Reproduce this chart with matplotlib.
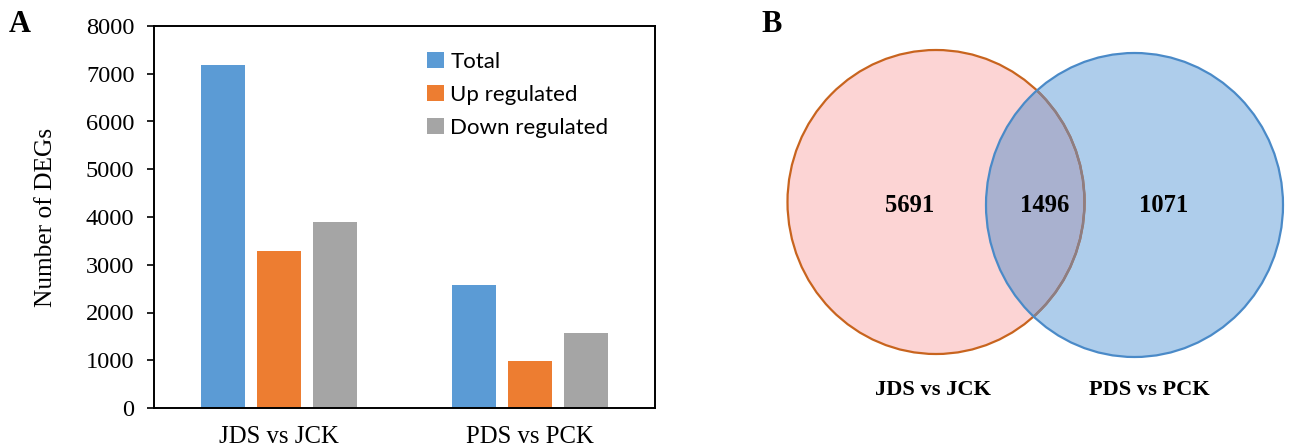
import matplotlib
matplotlib.use("Agg")
import matplotlib.pyplot as plt
from matplotlib.patches import Ellipse
import numpy as np

# DEG counts per comparison
comparisons = ["JDS vs JCK", "PDS vs PCK"]
series_names = ["Total", "Up regulated", "Down regulated"]
total = [7187, 2567]
up_regulated = [3280, 980]
down_regulated = [3900, 1580]
bar_colors = ["#5B9BD5", "#ED7D31", "#A5A5A5"]

# Venn counts: only JDS, shared, only PDS
venn_counts = [5691, 1496, 1071]
venn_labels = ["JDS vs JCK", "PDS vs PCK"]

serif = "Liberation Serif"

fig = plt.figure(figsize=(12.93, 4.48), dpi=100)

# ---- panel A: grouped bars ----
ax = fig.add_axes([154 / 1293, 1 - 408 / 448, 501 / 1293, 382 / 448])
x = np.arange(len(comparisons))
offset = 0.2236
width = 0.176
for i, (vals, name) in enumerate(zip([total, up_regulated, down_regulated], series_names)):
    ax.bar(x + (i - 1) * offset, vals, width, color=bar_colors[i], label=name, zorder=2)

ax.set_xlim(-0.5, 1.5)
ax.set_ylim(0, 8000)
ax.set_yticks(np.arange(0, 8001, 1000))
ax.set_xticks(x)
ax.set_xticklabels(comparisons, fontfamily=serif, fontsize=17.8)
for lab in ax.get_yticklabels():
    lab.set_fontfamily(serif)
    lab.set_fontsize(17.6)
ax.tick_params(axis="x", length=0, pad=13)
ax.tick_params(axis="y", length=5, width=1.2, pad=9)
for sp in ax.spines.values():
    sp.set_linewidth(1.4)
ax.set_ylabel("Number of DEGs", fontfamily=serif, fontsize=18.3)
ax.yaxis.set_label_coords(-0.194, 0.5)

ax.legend(loc="upper left", bbox_to_anchor=(0.505, 0.985), frameon=False,
          prop={"family": "Lato", "size": 16}, handlelength=0.75, handleheight=0.75,
          handletextpad=0.3, labelspacing=0.58)

fig.text(9 / 1293, 1 - 25 / 448, "A", fontfamily=serif, fontweight="bold",
         fontsize=22, va="center", ha="left")

# ---- panel B: Venn diagram ----
vx = fig.add_axes([760 / 1293, 0, 533 / 1293, 1])
vx.set_xlim(760, 1293)
vx.set_ylim(448, 0)
vx.set_aspect("equal")
vx.axis("off")

left_c, right_c = (936, 202), (1134.5, 205)
ew, eh = 297, 304

left_fill = Ellipse(left_c, ew, eh, facecolor="#FCD4D4", edgecolor="none", zorder=1)
right_fill = Ellipse(right_c, ew, eh, facecolor="#AECDEB", edgecolor="none", zorder=1)
vx.add_patch(left_fill)
vx.add_patch(right_fill)

overlap = Ellipse(left_c, ew, eh, facecolor="#A9B1CF", edgecolor="none", zorder=2)
vx.add_patch(overlap)
overlap.set_clip_path(right_fill)

left_edge = Ellipse(left_c, ew, eh, facecolor="none", edgecolor="#C8641E", lw=1.6, zorder=3)
vx.add_patch(left_edge)
left_inner = Ellipse(left_c, ew, eh, facecolor="none", edgecolor="#8C7E84", lw=1.8, zorder=4)
vx.add_patch(left_inner)
clip_r = Ellipse(right_c, ew, eh, facecolor="none", edgecolor="none")
vx.add_patch(clip_r)
left_inner.set_clip_path(clip_r)

right_edge = Ellipse(right_c, ew, eh, facecolor="none", edgecolor="#4A8AC8", lw=1.6, zorder=5)
vx.add_patch(right_edge)

count_x = [910, 1045, 1164]
for cx, n in zip(count_x, venn_counts):
    vx.text(cx, 205, str(n), fontfamily=serif, fontweight="bold", fontsize=17.7,
            ha="center", va="center", zorder=6)

for lx, lab in zip([933, 1149], venn_labels):
    vx.text(lx, 390, lab, fontfamily=serif, fontweight="bold", fontsize=16.1,
            ha="center", va="center")

fig.text(761 / 1293, 1 - 25 / 448, "B", fontfamily=serif, fontweight="bold",
         fontsize=22, va="center", ha="left")

fig.savefig("out.png", dpi=100)
